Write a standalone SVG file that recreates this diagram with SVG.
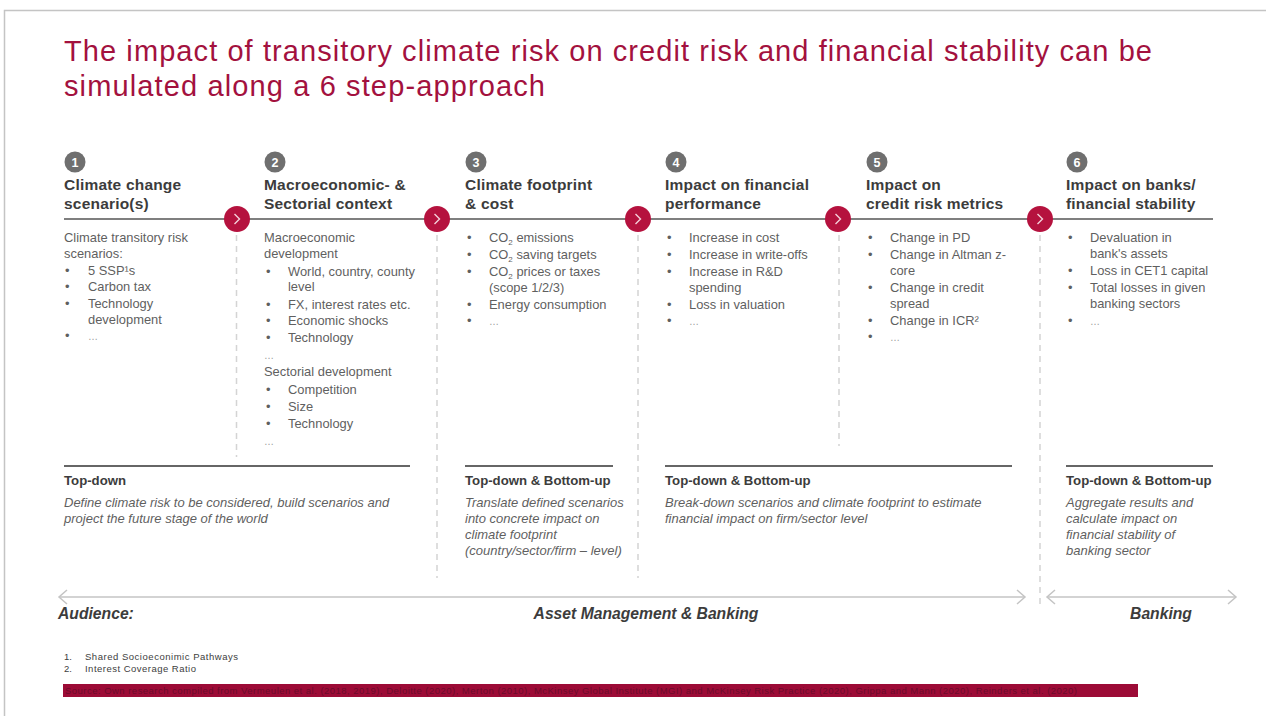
<svg xmlns="http://www.w3.org/2000/svg" width="1266" height="716" viewBox="0 0 1266 716">
<defs>
<style>
text{font-family:"Liberation Sans",Arial,sans-serif}
.title{font-size:29px;fill:#a3113e}
.num{font-size:12.5px;font-weight:bold;fill:#fff;text-anchor:middle}
.ncirc{fill:#6f6f6f}
.head{font-size:15.5px;font-weight:bold;fill:#3c3c3c;letter-spacing:0.2px}
.body{font-size:12.9px;fill:#5f5f5f}
.ell{font-size:10px;fill:#9a9a9a}
.sub{font-size:13.2px;font-weight:bold;fill:#3c3c3c}
.it{font-size:13px;font-style:italic;fill:#5f5f5f}
.aud{font-size:15.7px;font-weight:bold;font-style:italic;fill:#3c3c3c}
.fn{font-size:9.5px;fill:#404040}
.src{font-size:9.5px;fill:#6b0b2b}
.div{stroke:#d4d4d4;stroke-width:1.5;stroke-dasharray:6 5}
.sep{stroke:#333;stroke-width:1.6}
.arr{stroke:#c4c4c4;stroke-width:1.5;fill:none}
.rc{fill:#b5123e}
.chev{stroke:#f4d0da;stroke-width:1.4;fill:none}
</style>
</defs>
<rect width="1266" height="716" fill="#fff"/>
<path d="M4.5 716 V10.5 H1266" fill="none" stroke="#c4c4c4" stroke-width="1.5"/>

<g id="title">
<text class="title" x="64" y="61" textLength="1088" lengthAdjust="spacing">The impact of transitory climate risk on credit risk and financial stability can be</text>
<text class="title" x="64" y="96" textLength="481" lengthAdjust="spacing">simulated along a 6 step-approach</text>
</g>

<g id="connectors">
<line x1="64" y1="219" x2="1213" y2="219" stroke="#555" stroke-width="1.6"/>
<line class="div" x1="236.5" y1="235" x2="236.5" y2="457"/>
<line class="div" x1="437" y1="235" x2="437" y2="578"/>
<line class="div" x1="638" y1="235" x2="638" y2="578"/>
<line class="div" x1="839" y1="235" x2="839" y2="446"/>
<line class="div" x1="1040" y1="235" x2="1040" y2="606"/>
<g><circle class="rc" cx="237" cy="219" r="13"/><path class="chev" d="M234.5 214 L239.5 219 L234.5 224"/></g>
<g><circle class="rc" cx="437" cy="219" r="13"/><path class="chev" d="M434.5 214 L439.5 219 L434.5 224"/></g>
<g><circle class="rc" cx="638" cy="219" r="13"/><path class="chev" d="M635.5 214 L640.5 219 L635.5 224"/></g>
<g><circle class="rc" cx="838" cy="219" r="13"/><path class="chev" d="M835.5 214 L840.5 219 L835.5 224"/></g>
<g><circle class="rc" cx="1040" cy="219" r="13"/><path class="chev" d="M1037.5 214 L1042.5 219 L1037.5 224"/></g>
<line class="arr" x1="59" y1="597" x2="1025" y2="597"/>
<path class="arr" d="M67 590 L59 597 L67 604"/>
<path class="arr" d="M1017 590 L1025 597 L1017 604"/>
<line class="arr" x1="1047" y1="597" x2="1236" y2="597"/>
<path class="arr" d="M1055 590 L1047 597 L1055 604"/>
<path class="arr" d="M1228 590 L1236 597 L1228 604"/>
</g>

<g id="step1">
<circle class="ncirc" cx="75" cy="162" r="10.5"/><text class="num" x="75" y="166.5">1</text>
<text class="head" x="64" y="190">Climate change</text>
<text class="head" x="64" y="208.5">scenario(s)</text>
<text class="body" x="64" y="241.5">Climate transitory risk</text>
<text class="body" x="64" y="258">scenarios:</text>
<text class="body" x="65" y="274.5">•</text><text class="body" x="88" y="274.5">5 SSP¹s</text>
<text class="body" x="65" y="291">•</text><text class="body" x="88" y="291">Carbon tax</text>
<text class="body" x="65" y="307.5">•</text><text class="body" x="88" y="307.5">Technology</text>
<text class="body" x="88" y="323.5">development</text>
<text class="body" x="65" y="340">•</text><text class="ell" x="88" y="340">…</text>
</g>

<g id="step2">
<circle class="ncirc" cx="275" cy="162" r="10.5"/><text class="num" x="275" y="166.5">2</text>
<text class="head" x="264" y="190">Macroeconomic- &amp;</text>
<text class="head" x="264" y="208.5">Sectorial context</text>
<text class="body" x="264" y="241.5">Macroeconomic</text>
<text class="body" x="264" y="258">development</text>
<text class="body" x="266" y="275.5">•</text><text class="body" x="288" y="275.5">World, country, county</text>
<text class="body" x="288" y="291">level</text>
<text class="body" x="266" y="308.5">•</text><text class="body" x="288" y="308.5">FX, interest rates etc.</text>
<text class="body" x="266" y="325">•</text><text class="body" x="288" y="325">Economic shocks</text>
<text class="body" x="266" y="342">•</text><text class="body" x="288" y="342">Technology</text>
<text class="ell" x="264" y="359">…</text>
<text class="body" x="264" y="376">Sectorial development</text>
<text class="body" x="266" y="394">•</text><text class="body" x="288" y="394">Competition</text>
<text class="body" x="266" y="411">•</text><text class="body" x="288" y="411">Size</text>
<text class="body" x="266" y="428">•</text><text class="body" x="288" y="428">Technology</text>
<text class="ell" x="264" y="445">…</text>
</g>

<g id="step3">
<circle class="ncirc" cx="476" cy="162" r="10.5"/><text class="num" x="476" y="166.5">3</text>
<text class="head" x="465" y="190">Climate footprint</text>
<text class="head" x="465" y="208.5">&amp; cost</text>
<text class="body" x="467" y="241.5">•</text><text class="body" x="489" y="241.5">CO<tspan font-size="8" dy="3">2</tspan><tspan dy="-3"> emissions</tspan></text>
<text class="body" x="467" y="258.5">•</text><text class="body" x="489" y="258.5">CO<tspan font-size="8" dy="3">2</tspan><tspan dy="-3"> saving targets</tspan></text>
<text class="body" x="467" y="275.5">•</text><text class="body" x="489" y="275.5">CO<tspan font-size="8" dy="3">2</tspan><tspan dy="-3"> prices or taxes</tspan></text>
<text class="body" x="489" y="291.5">(scope 1/2/3)</text>
<text class="body" x="467" y="308.5">•</text><text class="body" x="489" y="308.5">Energy consumption</text>
<text class="body" x="467" y="325">•</text><text class="ell" x="489" y="325">…</text>
</g>

<g id="step4">
<circle class="ncirc" cx="676" cy="162" r="10.5"/><text class="num" x="676" y="166.5">4</text>
<text class="head" x="665" y="190">Impact on financial</text>
<text class="head" x="665" y="208.5">performance</text>
<text class="body" x="667" y="241.5">•</text><text class="body" x="689" y="241.5">Increase in cost</text>
<text class="body" x="667" y="258.5">•</text><text class="body" x="689" y="258.5">Increase in write-offs</text>
<text class="body" x="667" y="275.5">•</text><text class="body" x="689" y="275.5">Increase in R&amp;D</text>
<text class="body" x="689" y="291.5">spending</text>
<text class="body" x="667" y="308.5">•</text><text class="body" x="689" y="308.5">Loss in valuation</text>
<text class="body" x="667" y="325">•</text><text class="ell" x="689" y="325">…</text>
</g>

<g id="step5">
<circle class="ncirc" cx="877" cy="162" r="10.5"/><text class="num" x="877" y="166.5">5</text>
<text class="head" x="866" y="190">Impact on</text>
<text class="head" x="866" y="208.5">credit risk metrics</text>
<text class="body" x="868" y="241.5">•</text><text class="body" x="890" y="241.5">Change in PD</text>
<text class="body" x="868" y="258.5">•</text><text class="body" x="890" y="258.5">Change in Altman z-</text>
<text class="body" x="890" y="274.5">core</text>
<text class="body" x="868" y="291.5">•</text><text class="body" x="890" y="291.5">Change in credit</text>
<text class="body" x="890" y="307.5">spread</text>
<text class="body" x="868" y="324.5">•</text><text class="body" x="890" y="324.5">Change in ICR²</text>
<text class="body" x="868" y="341">•</text><text class="ell" x="890" y="341">…</text>
</g>

<g id="step6">
<circle class="ncirc" cx="1077" cy="162" r="10.5"/><text class="num" x="1077" y="166.5">6</text>
<text class="head" x="1066" y="190">Impact on banks/</text>
<text class="head" x="1066" y="208.5">financial stability</text>
<text class="body" x="1068" y="241.5">•</text><text class="body" x="1090" y="241.5">Devaluation  in</text>
<text class="body" x="1090" y="257.5">bank's assets</text>
<text class="body" x="1068" y="274.5">•</text><text class="body" x="1090" y="274.5">Loss in CET1 capital</text>
<text class="body" x="1068" y="291.5">•</text><text class="body" x="1090" y="291.5">Total losses in given</text>
<text class="body" x="1090" y="307.5">banking sectors</text>
<text class="body" x="1068" y="325">•</text><text class="ell" x="1090" y="325">…</text>
</g>

<g id="approach-topdown">
<line class="sep" x1="64" y1="466" x2="410" y2="466"/>
<text class="sub" x="64" y="484.5">Top-down</text>
<text class="it" x="64" y="507">Define climate risk to be considered, build scenarios and</text>
<text class="it" x="64" y="523">project the future stage of the world</text>
</g>

<g id="approach-footprint">
<line class="sep" x1="465" y1="466" x2="613" y2="466"/>
<text class="sub" x="465" y="484.5">Top-down &amp; Bottom-up</text>
<text class="it" x="465" y="507">Translate defined scenarios</text>
<text class="it" x="465" y="523">into concrete impact on</text>
<text class="it" x="465" y="539">climate footprint</text>
<text class="it" x="465" y="555">(country/sector/firm – level)</text>
</g>

<g id="approach-financial">
<line class="sep" x1="665" y1="466" x2="1012" y2="466"/>
<text class="sub" x="665" y="484.5">Top-down &amp; Bottom-up</text>
<text class="it" x="665" y="507">Break-down scenarios and climate footprint to estimate</text>
<text class="it" x="665" y="523">financial impact on firm/sector level</text>
</g>

<g id="approach-banking">
<line class="sep" x1="1066" y1="466" x2="1213" y2="466"/>
<text class="sub" x="1066" y="484.5">Top-down &amp; Bottom-up</text>
<text class="it" x="1066" y="507">Aggregate  results and</text>
<text class="it" x="1066" y="523">calculate impact on</text>
<text class="it" x="1066" y="539">financial stability of</text>
<text class="it" x="1066" y="555">banking sector</text>
</g>

<g id="audience">
<text class="aud" x="58" y="619">Audience:</text>
<text class="aud" x="646" y="619" text-anchor="middle">Asset Management &amp; Banking</text>
<text class="aud" x="1161" y="619" text-anchor="middle">Banking</text>
</g>

<g id="footnotes">
<text class="fn" x="64" y="660">1.</text><text class="fn" x="85" y="660" textLength="153" lengthAdjust="spacing">Shared Socioeconimic Pathways</text>
<text class="fn" x="64" y="671.5">2.</text><text class="fn" x="85" y="671.5" textLength="111" lengthAdjust="spacing">Interest Coverage Ratio</text>
</g>

<g id="source">
<rect x="63" y="684" width="1075" height="13" fill="#9c0b36"/>
<text class="src" x="65" y="694" textLength="1012" lengthAdjust="spacing">Source: Own research compiled from Vermeulen et al. (2018, 2019), Deloitte (2020), Merton (2010), McKinsey Global Institute (MGI) and McKinsey Risk Practice (2020), Grippa and Mann (2020), Reinders et al. (2020)</text>
</g>
</svg>
